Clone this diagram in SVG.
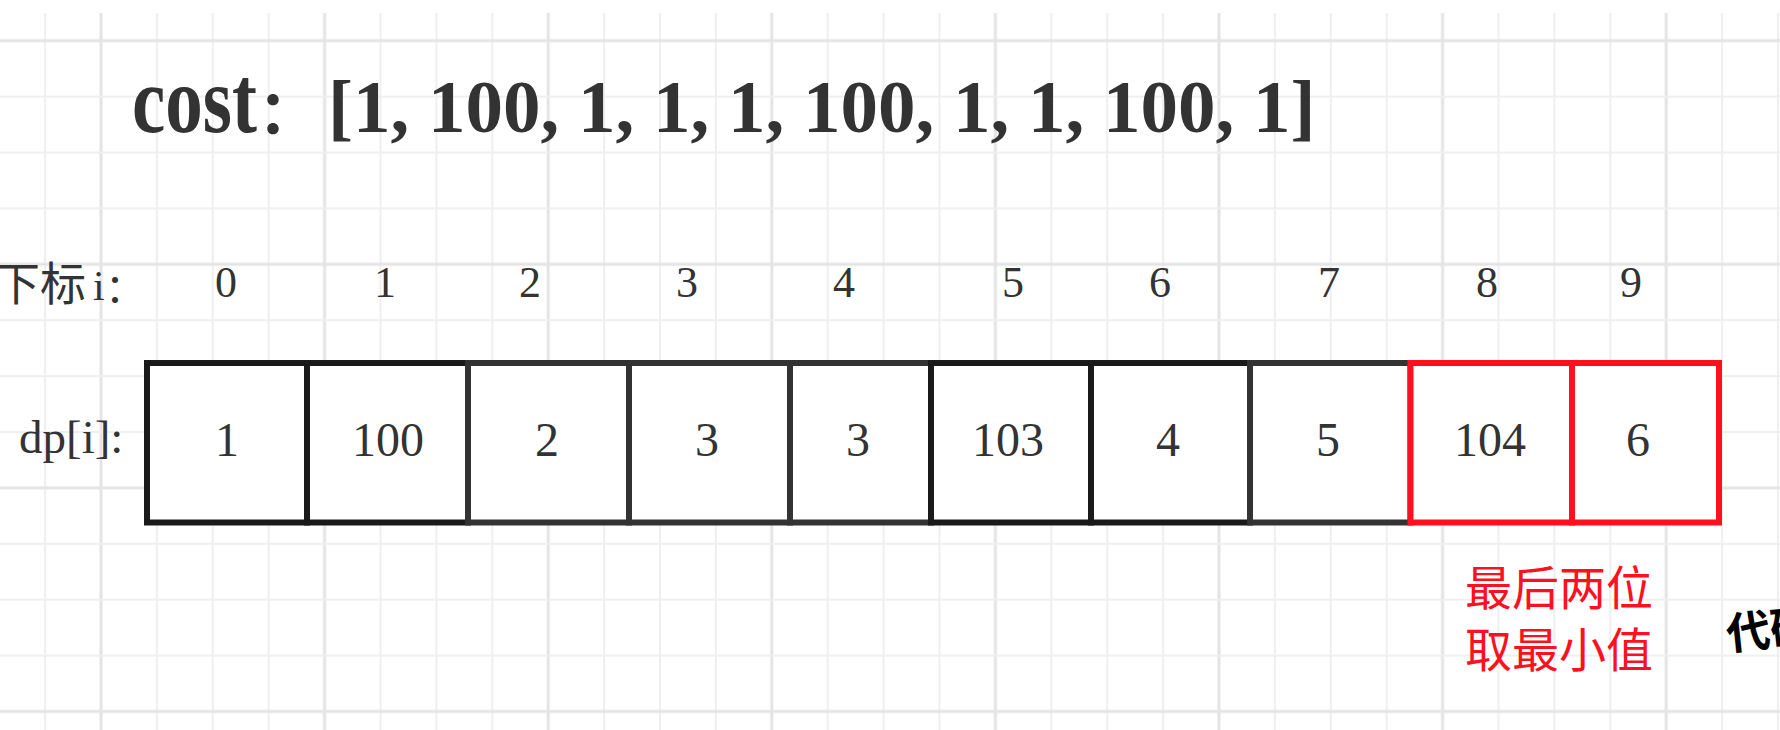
<svg xmlns="http://www.w3.org/2000/svg" width="1780" height="730" viewBox="0 0 1780 730">
<style>
.serif{font-family:"Liberation Serif","Times New Roman",serif;}
.cjk{font-family:"Noto Sans CJK SC",sans-serif;}
.idx{font-family:"Liberation Serif",serif;font-size:44px;fill:#333;text-anchor:middle;}
.val{font-family:"Liberation Serif",serif;font-size:48px;fill:#333;text-anchor:middle;}
.cell{fill:#fff;stroke-width:6;}
.dk{stroke:#1a1a1a;}
.md{stroke:#333333;}
.rd{stroke:#ff1020;}
</style>
<defs>
<pattern id="grid" patternUnits="userSpaceOnUse" x="99" y="38.7" width="223.6" height="223.6">
<rect x="0.5" y="0" width="3" height="223.6" fill="#e4e4e4"/>
<rect x="56.9" y="0" width="2" height="223.6" fill="#efefef"/>
<rect x="112.8" y="0" width="2" height="223.6" fill="#efefef"/>
<rect x="168.7" y="0" width="2" height="223.6" fill="#efefef"/>
<rect x="0" y="0.5" width="223.6" height="3" fill="#e4e4e4"/>
<rect x="0" y="56.9" width="223.6" height="2" fill="#efefef"/>
<rect x="0" y="112.8" width="223.6" height="2" fill="#efefef"/>
<rect x="0" y="168.7" width="223.6" height="2" fill="#efefef"/>
</pattern>
</defs>
<rect x="0" y="0" width="1780" height="730" fill="#fff"/>
<rect x="0" y="13" width="1780" height="717" fill="url(#grid)"/>

<g id="title">
<text class="serif" font-weight="bold" font-size="75" fill="#333" transform="translate(132,132) scale(1,1.27)">cost</text>
<text class="cjk" font-weight="bold" font-size="60" fill="#333" x="258" y="134">：</text>
<text class="serif" font-weight="bold" font-size="75" fill="#333" x="328" y="132">[1, 100, 1, 1, 1, 100, 1, 1, 100, 1]</text>
</g>

<g id="index-label">
<text font-size="46" fill="#333" y="300"><tspan class="cjk" x="-6">下标</tspan><tspan class="serif" x="93" font-size="42">i</tspan><tspan class="cjk" font-size="40" x="105" y="302">：</tspan></text>
</g>

<g id="indices">
<text class="idx" x="226" y="297">0</text>
<text class="idx" x="385" y="297">1</text>
<text class="idx" x="530" y="297">2</text>
<text class="idx" x="687" y="297">3</text>
<text class="idx" x="844" y="297">4</text>
<text class="idx" x="1013" y="297">5</text>
<text class="idx" x="1160" y="297">6</text>
<text class="idx" x="1329" y="297">7</text>
<text class="idx" x="1487" y="297">8</text>
<text class="idx" x="1631" y="297">9</text>
</g>

<g id="dp-label">
<text class="serif" font-size="47" fill="#333" x="19" y="453">dp[i]:</text>
</g>

<g id="cells">
<g id="cell0"><rect class="cell dk" x="147" y="363" width="160" height="159.5"/><text class="val" x="227" y="456">1</text></g>
<g id="cell1"><rect class="cell dk" x="307" y="363" width="161" height="159.5"/><text class="val" x="388" y="456">100</text></g>
<g id="cell2"><rect class="cell md" x="468" y="363" width="161" height="159.5"/><text class="val" x="547" y="456">2</text></g>
<g id="cell3"><rect class="cell md" x="629" y="363" width="161" height="159.5"/><text class="val" x="707" y="456">3</text></g>
<g id="cell4"><rect class="cell md" x="790" y="363" width="141" height="159.5"/><text class="val" x="858" y="456">3</text></g>
<g id="cell5"><rect class="cell dk" x="931" y="363" width="160" height="159.5"/><text class="val" x="1008" y="456">103</text></g>
<g id="cell6"><rect class="cell dk" x="1091" y="363" width="159" height="159.5"/><text class="val" x="1168" y="456">4</text></g>
<g id="cell7"><rect class="cell md" x="1250" y="363" width="160.5" height="159.5"/><text class="val" x="1328" y="456">5</text></g>
<g id="cell8"><rect class="cell rd" x="1410.5" y="363" width="161.5" height="159.5"/><text class="val" x="1490" y="456">104</text></g>
<g id="cell9"><rect class="cell rd" x="1572" y="363" width="147" height="159.5"/><text class="val" x="1638" y="456">6</text></g>
</g>

<g id="note">
<text class="cjk" font-size="47" fill="#ff1020" text-anchor="middle" x="1559" y="605">最后两位</text>
<text class="cjk" font-size="47" fill="#ff1020" text-anchor="middle" x="1559" y="667">取最小值</text>
</g>

<g id="watermark">
<text class="cjk" font-weight="bold" font-size="44" fill="#000" transform="translate(1728,650) rotate(-6)">代码</text>
</g>
<g id="connectors"></g>
</svg>
